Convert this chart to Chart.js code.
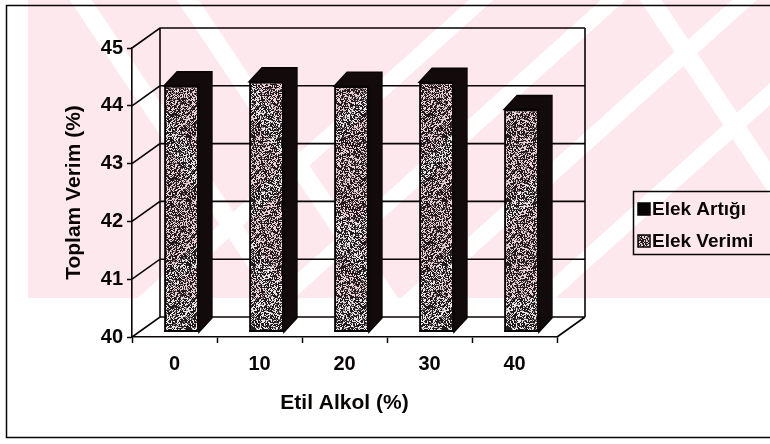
<!DOCTYPE html>
<html>
<head>
<meta charset="utf-8">
<script src="https://cdn.jsdelivr.net/npm/chart.js@4.4.1/dist/chart.umd.min.js"></script>
<style>
  html, body { margin: 0; padding: 0; background: #fff; }
  #wrap { width: 770px; height: 444px; position: relative; }
  #c { display: block; }
</style>
</head>
<body>
<div id="wrap"><canvas id="c" width="770" height="444"></canvas></div>
<script>
// Category axis: ethyl alcohol share
const categories = ['0', '10', '20', '30', '40'];
// Series values (Toplam Verim, %)
const elekVerimi = [44.26, 44.33, 44.25, 44.32, 43.85];
const elekArtigi = [0, 0, 0, 0, 0];
const seriesNames = ['Elek Verimi', 'Elek Artığı'];
// Value-axis ticks
const yTicks = [40, 41, 42, 43, 44, 45];

const FONT = "'Liberation Sans', Arial, sans-serif";
const INK = '#0a0505';

// Grainy grey texture for the column faces (fixed LCG so it is the same every run)
function makeSpeckle(size) {
  const c = document.createElement('canvas');
  c.width = c.height = size;
  const g = c.getContext('2d');
  const img = g.createImageData(size, size);
  let s = 987654321;
  for (let i = 0; i < size * size; i++) {
    s = (s * 1103515245 + 12345) & 0x7fffffff;
    const r = (s >> 12) % 100;
    const v = r < 50 ? 30 : (r < 62 ? 120 : 232);
    img.data[i * 4] = v + 3;
    img.data[i * 4 + 1] = v - 3;
    img.data[i * 4 + 2] = v - 1;
    img.data[i * 4 + 3] = 255;
  }
  g.putImageData(img, 0, 0);
  return c;
}
const speckleCanvas = makeSpeckle(64);
const ctxMain = document.getElementById('c').getContext('2d');
const specklePattern = ctxMain.createPattern(speckleCanvas, 'repeat');

// 3D geometry
const WALL = { dx: 28, dy: 20 };     // depth of the floor / side wall
const SHIFT = { dx: 7, dy: 5 };      // columns stand a little behind the front edge
const COL = { dx: 13, dy: 14 };      // depth of each column

const chrome3d = {
  id: 'chrome3d',
  beforeDatasetsDraw(chart) {
    const { ctx, chartArea: a, scales: { y } } = chart;
    ctx.save();
    ctx.strokeStyle = INK;
    ctx.lineWidth = 1.6;
    const bl = a.left + WALL.dx, br = a.right + WALL.dx;
    const bt = a.top - WALL.dy, bb = a.bottom - WALL.dy;
    ctx.beginPath();
    yTicks.forEach(v => {
      const yy = y.getPixelForValue(v);
      ctx.moveTo(a.left, yy);
      ctx.lineTo(bl, yy - WALL.dy);
      ctx.lineTo(br, yy - WALL.dy);
    });
    ctx.moveTo(bl, bt); ctx.lineTo(bl, bb);
    ctx.moveTo(br, bt); ctx.lineTo(br, bb);
    ctx.moveTo(a.right, a.bottom); ctx.lineTo(br, bb);
    ctx.stroke();
    ctx.restore();
    ctx.save();
    ctx.translate(SHIFT.dx, -SHIFT.dy);
  },
  afterDatasetsDraw(chart) {
    const { ctx, chartArea: a } = chart;
    const meta = chart.getDatasetMeta(0);
    ctx.fillStyle = '#120a0b';
    ctx.strokeStyle = INK;
    meta.data.forEach(el => {
      const w = el.width, l = el.x - w / 2, r = el.x + w / 2, t = el.y, b = a.bottom;
      ctx.lineWidth = 1.5;
      ctx.beginPath();
      ctx.moveTo(l, t);
      ctx.lineTo(l + COL.dx, t - COL.dy);
      ctx.lineTo(r + COL.dx, t - COL.dy);
      ctx.lineTo(r + COL.dx, b - COL.dy);
      ctx.lineTo(r, b);
      ctx.lineTo(r, t);
      ctx.closePath();
      ctx.fill();
      ctx.stroke();
      ctx.beginPath();
      ctx.lineWidth = 2;
      ctx.moveTo(l, b - 1); ctx.lineTo(r, b - 1);
      ctx.stroke();
    });
    ctx.restore();
  },
  afterDraw(chart) {
    const ctx = chart.ctx;
    // legend box
    ctx.save();
    const lx = 633, ly = 191, lw = 140, lh = 63;
    ctx.fillStyle = '#fff';
    ctx.fillRect(lx, ly, lw, lh);
    ctx.strokeStyle = INK;
    ctx.lineWidth = 1.5;
    ctx.strokeRect(lx + 0.5, ly + 0.5, lw, lh);
    const entries = [
      { label: chart.data.datasets[1].label, fill: INK },
      { label: chart.data.datasets[0].label, fill: specklePattern }
    ];
    ctx.font = 'bold 19px ' + FONT;
    ctx.textBaseline = 'middle';
    entries.forEach((e, i) => {
      const cy = 209 + i * 32;
      ctx.fillStyle = e.fill;
      ctx.fillRect(638, cy - 6, 12, 12);
      ctx.strokeRect(638, cy - 6, 12, 12);
      ctx.fillStyle = INK;
      ctx.fillText(e.label, 652, cy + 1);
    });
    // outer frame
    ctx.lineWidth = 1.5;
    ctx.strokeRect(6.5, 5.5, 800, 432);
    ctx.restore();

    // pink diagonal-striped background print, multiplied over the upper band
    const off = document.createElement('canvas');
    off.width = 770; off.height = 444;
    const g = off.getContext('2d');
    g.fillStyle = '#fff';
    g.fillRect(0, 0, 770, 444);
    g.save();
    g.beginPath();
    g.rect(28, 0, 742, 298);
    g.clip();
    g.fillStyle = '#fde8ed';
    g.fillRect(28, 0, 742, 298);
    g.fillStyle = '#fff';
    // "/" stripes: y = k - 0.9x
    [422, 541, 659, 776].forEach(k => {
      const t = 22;
      g.beginPath();
      g.moveTo(-50, k + 45); g.lineTo(820, k - 738);
      g.lineTo(820, k - 738 + t); g.lineTo(-50, k + 45 + t);
      g.closePath(); g.fill();
    });
    // "\" stripes: x = x0 + y / 1.5
    [70, 177, 640].forEach(x0 => {
      const t = 22;
      g.beginPath();
      g.moveTo(x0 - 7, -10); g.lineTo(x0 + t - 7, -10);
      g.lineTo(x0 + t + 207, 310); g.lineTo(x0 + 207, 310);
      g.closePath(); g.fill();
    });
    g.restore();
    ctx.save();
    ctx.globalCompositeOperation = 'multiply';
    ctx.drawImage(off, 0, 0);
    ctx.restore();
  }
};

new Chart(document.getElementById('c'), {
  type: 'bar',
  data: {
    labels: categories,
    datasets: [
      {
        label: seriesNames[0],
        data: elekVerimi,
        backgroundColor: specklePattern,
        borderColor: INK,
        borderWidth: 2,
        borderSkipped: false,
        barPercentage: 0.41,
        categoryPercentage: 1
      },
      {
        label: seriesNames[1],
        data: elekArtigi,
        backgroundColor: INK,
        borderWidth: 0,
        barPercentage: 0.41,
        categoryPercentage: 1
      }
    ]
  },
  options: {
    responsive: false,
    animation: false,
    devicePixelRatio: 1,
    layout: { padding: { top: 48, right: 213, left: 0, bottom: 0 } },
    plugins: { legend: { display: false }, tooltip: { enabled: false } },
    scales: {
      x: {
        stacked: true,
        offset: true,
        grid: { offset: true, drawOnChartArea: false, tickLength: 6, color: INK, tickWidth: 1.5 },
        border: { display: true, color: INK, width: 1.6 },
        ticks: { color: INK, padding: 9, font: { family: FONT, size: 20, weight: 'bold' } },
        title: {
          display: true, text: 'Etil Alkol (%)', color: INK,
          font: { family: FONT, size: 21, weight: 'bold' },
          padding: { top: 4, bottom: 28 }
        },
        afterFit(s) { s.height = 107; }
      },
      y: {
        stacked: true,
        min: 40, max: 45,
        afterBuildTicks(s) { s.ticks = yTicks.map(v => ({ value: v })); },
        grid: { drawOnChartArea: false, tickLength: 5, color: INK, tickWidth: 1.5 },
        border: { display: true, color: INK, width: 1.6 },
        ticks: { color: INK, padding: 4, font: { family: FONT, size: 20, weight: 'bold' } },
        title: {
          display: true, text: 'Toplam Verim (%)', color: INK,
          font: { family: FONT, size: 21, weight: 'bold' },
          padding: { top: 62, bottom: 0 }
        },
        afterFit(s) { s.width = 132; }
      }
    }
  },
  plugins: [chrome3d]
});
</script>
</body>
</html>
